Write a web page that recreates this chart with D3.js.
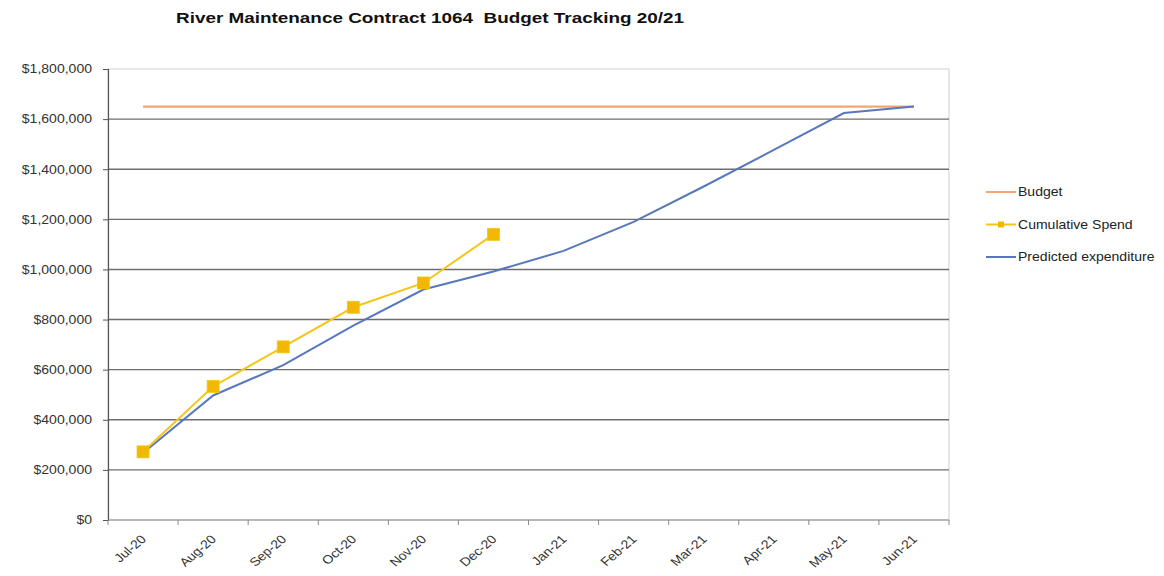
<!DOCTYPE html>
<html>
<head>
<meta charset="utf-8">
<script src="https://cdn.jsdelivr.net/npm/d3@7"></script>
<style>
  html, body { margin: 0; padding: 0; background: #fff; }
  svg text { font-family: "Liberation Sans", Arial, sans-serif; }
</style>
</head>
<body>
<svg id="chart" width="1164" height="576"></svg>
<script>
// Monthly categories for the 2020/21 financial year
const months = ["Jul-20", "Aug-20", "Sep-20", "Oct-20", "Nov-20", "Dec-20",
                "Jan-21", "Feb-21", "Mar-21", "Apr-21", "May-21", "Jun-21"];
// Annual contract budget (flat)
const budget = [1650000, 1650000, 1650000, 1650000, 1650000, 1650000,
                1650000, 1650000, 1650000, 1650000, 1650000, 1650000];
// Actual cumulative spend to date
const cumulativeSpend = [272000, 533000, 691000, 849000, 946000, 1140000];
// Forecast cumulative expenditure
const predicted = [267000, 497000, 618000, 776000, 920000, 992000,
                   1074000, 1190000, 1331000, 1477000, 1624000, 1650000];
// Y axis ticks
const yTicks = [0, 200000, 400000, 600000, 800000, 1000000,
                1200000, 1400000, 1600000, 1800000];

const svg = d3.select("#chart");
const plot = { left: 108, right: 949, top: 69, bottom: 520 };
const stretch = 1.17; // slightly wide lettering

const x = d3.scaleBand().domain(months).range([plot.left, plot.right]).padding(0);
const cx = m => x(m) + x.bandwidth() / 2;
const y = d3.scaleLinear().domain([0, 1800000]).range([plot.bottom, plot.top]);

// Title
svg.append("text")
  .attr("transform", "translate(430,23) scale(1.22,1)")
  .attr("text-anchor", "middle")
  .attr("font-size", 15.5).attr("font-weight", "bold")
  .attr("fill", "#111")
  .attr("xml:space", "preserve")
  .text("River Maintenance Contract 1064  Budget Tracking 20/21");

// Plot border (light)
svg.append("rect")
  .attr("x", plot.left).attr("y", plot.top)
  .attr("width", plot.right - plot.left).attr("height", plot.bottom - plot.top)
  .attr("fill", "none").attr("stroke", "#cfcfcf").attr("stroke-width", 1);

// Horizontal gridlines
svg.append("g").selectAll("line")
  .data(yTicks.filter(t => t > 0 && t < 1800000))
  .join("line")
  .attr("x1", plot.left).attr("x2", plot.right)
  .attr("y1", d => y(d)).attr("y2", d => y(d))
  .attr("stroke", "#6e6e6e").attr("stroke-width", 1.4);

// Y axis
const yAxis = d3.axisLeft(y).tickValues(yTicks).tickSize(5)
  .tickFormat(d => "$" + d3.format(",")(d));
const gy = svg.append("g").attr("transform", `translate(${plot.left},0)`).call(yAxis);
gy.select(".domain").attr("stroke", "#555").attr("stroke-width", 1.2);
gy.selectAll(".tick line").attr("stroke", "#555");
gy.selectAll(".tick text")
  .attr("x", null)
  .attr("transform", `translate(-16,0) scale(${stretch},1)`)
  .attr("font-size", 12).attr("fill", "#333")
  .attr("font-family", "'Liberation Sans', Arial, sans-serif");

// X axis with ticks between categories
const gx = svg.append("g").attr("transform", `translate(0,${plot.bottom})`);
gx.append("line").attr("x1", plot.left).attr("x2", plot.right)
  .attr("stroke", "#8a8a8a").attr("stroke-width", 1.2);
gx.selectAll("line.tk")
  .data(months.map(m => x(m)).concat([plot.right]))
  .join("line").attr("class", "tk")
  .attr("x1", d => d).attr("x2", d => d)
  .attr("y1", 0).attr("y2", 5)
  .attr("stroke", "#8a8a8a");
gx.selectAll("text")
  .data(months)
  .join("text")
  .attr("transform", d => `translate(${cx(d) + 4},${20}) scale(${stretch},1) rotate(-45)`)
  .attr("text-anchor", "end")
  .attr("font-size", 12).attr("fill", "#333")
  .text(d => d);

const line = d3.line().x(d => cx(d.m)).y(d => y(d.v));

// Budget line
svg.append("path")
  .datum(months.map((m, i) => ({ m, v: budget[i] })))
  .attr("d", line).attr("fill", "none")
  .attr("stroke", "#F4A574").attr("stroke-width", 2.2);

// Predicted expenditure
svg.append("path")
  .datum(months.map((m, i) => ({ m, v: predicted[i] })))
  .attr("d", line).attr("fill", "none")
  .attr("stroke", "#5877BD").attr("stroke-width", 2);

// Cumulative spend with square markers
const spendData = cumulativeSpend.map((v, i) => ({ m: months[i], v }));
svg.append("path")
  .datum(spendData)
  .attr("d", line).attr("fill", "none")
  .attr("stroke", "#F5C518").attr("stroke-width", 2);
svg.append("g").selectAll("rect")
  .data(spendData)
  .join("rect")
  .attr("x", d => cx(d.m) - 6).attr("y", d => y(d.v) - 6)
  .attr("width", 12).attr("height", 12)
  .attr("fill", "#F2B800").attr("stroke", "#F5C518").attr("stroke-width", 0.8);

// Legend
const legend = [
  { name: "Budget", color: "#F4A574", marker: false },
  { name: "Cumulative Spend", color: "#F5C518", marker: true },
  { name: "Predicted expenditure", color: "#5877BD", marker: false }
];
const lg = svg.append("g").attr("transform", "translate(986,192)");
legend.forEach((d, i) => {
  const g = lg.append("g").attr("transform", `translate(0,${i * 32.5})`);
  g.append("line").attr("x1", 0).attr("x2", 30).attr("y1", 0).attr("y2", 0)
    .attr("stroke", d.color).attr("stroke-width", 2);
  if (d.marker) {
    g.append("rect").attr("x", 12).attr("y", -3).attr("width", 6).attr("height", 6)
      .attr("fill", "#F2B800");
  }
  g.append("text")
    .attr("transform", `translate(32,0) scale(${stretch},1)`)
    .attr("dy", "0.35em")
    .attr("font-size", 12).attr("fill", "#222").text(d.name);
});
</script>
</body>
</html>
